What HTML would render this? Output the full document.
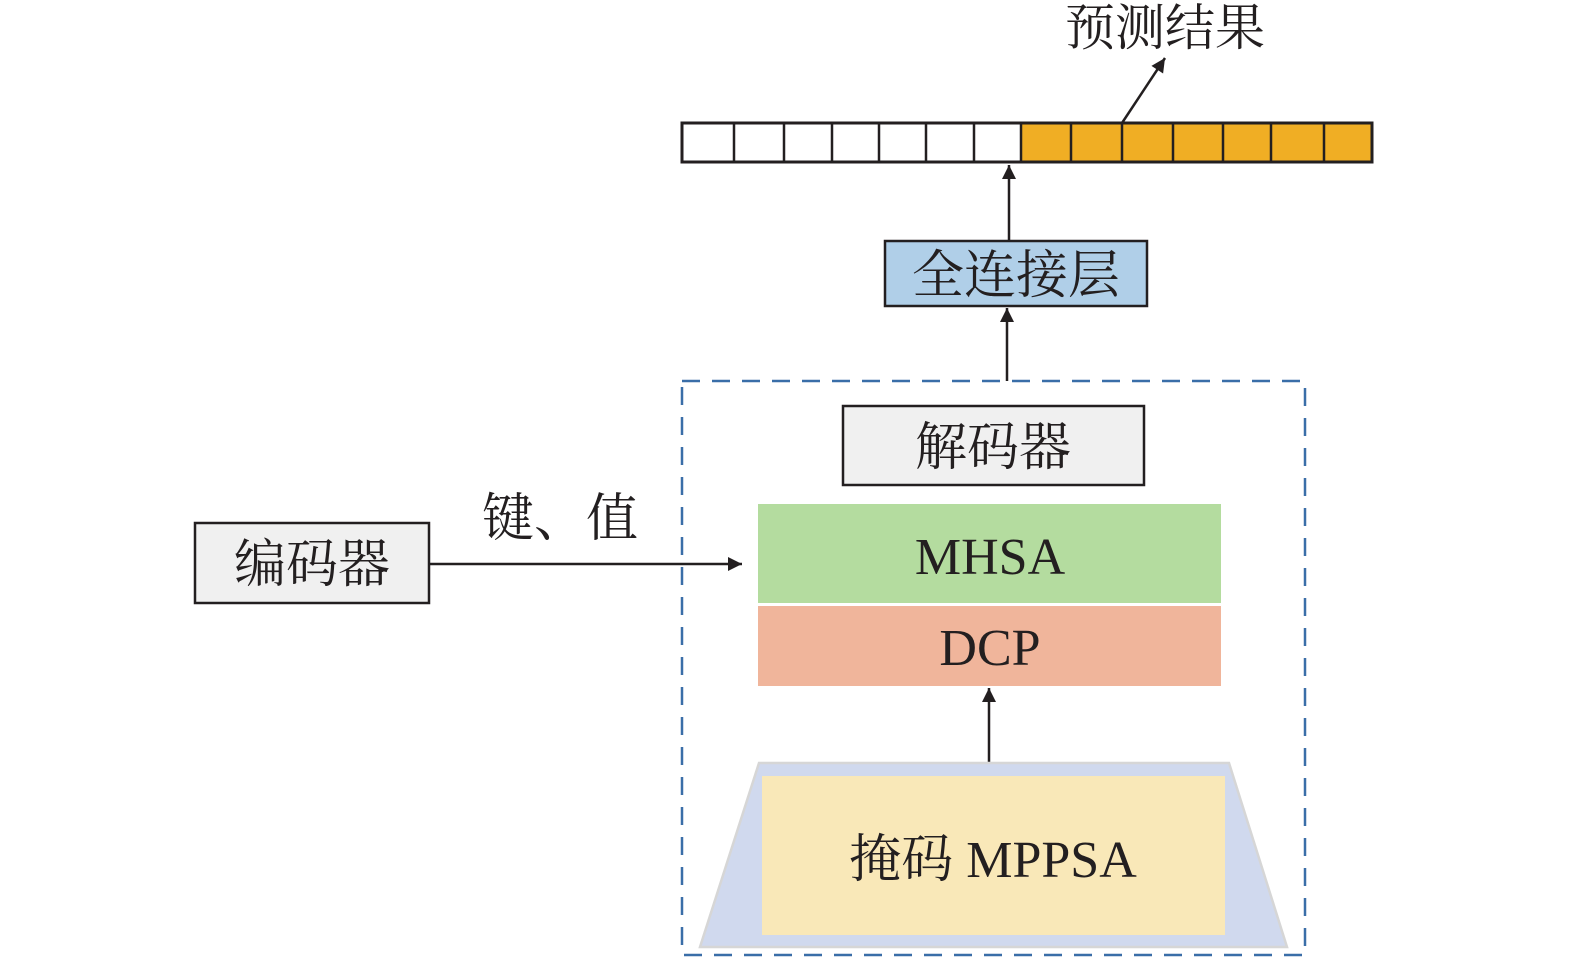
<!DOCTYPE html>
<html><head><meta charset="utf-8"><style>
body{margin:0;background:#fff}
text{font-family:"Liberation Serif","Noto Serif CJK SC",serif;fill:#231f20}
</style></head><body>
<svg width="1575" height="961" xmlns="http://www.w3.org/2000/svg">
<defs><marker id="a" markerWidth="10" markerHeight="10" refX="9" refY="5" orient="auto" markerUnits="userSpaceOnUse"><path d="M0,0 L30,5 L0,10z" transform="scale(0.3,1)"/></marker>
<marker id="b" viewBox="0 0 10 10" markerWidth="30" markerHeight="14" refX="10" refY="5" orient="auto" markerUnits="userSpaceOnUse"><path d="M0,0 L10,5 L0,10z" fill="#231f20"/></marker></defs>
<!-- top cells -->
<rect x="1021" y="123" width="351" height="39" fill="#f0ae24"/>
<rect x="682" y="123" width="690" height="39" fill="none" stroke="#231f20" stroke-width="3"/>
<g stroke="#231f20" stroke-width="2.5">
<line x1="734" y1="123" x2="734" y2="162"/><line x1="784" y1="123" x2="784" y2="162"/><line x1="832" y1="123" x2="832" y2="162"/><line x1="879" y1="123" x2="879" y2="162"/><line x1="926" y1="123" x2="926" y2="162"/><line x1="974" y1="123" x2="974" y2="162"/><line x1="1021" y1="123" x2="1021" y2="162"/><line x1="1071" y1="123" x2="1071" y2="162"/><line x1="1122" y1="123" x2="1122" y2="162"/><line x1="1173" y1="123" x2="1173" y2="162"/><line x1="1223" y1="123" x2="1223" y2="162"/><line x1="1271" y1="123" x2="1271" y2="162"/><line x1="1324" y1="123" x2="1324" y2="162"/>
</g>
<text x="1165" y="45" font-size="50" text-anchor="middle">预测结果</text>
<g stroke="#231f20" stroke-width="2.5" fill="none">
<line x1="1122" y1="123" x2="1165" y2="58" marker-end="url(#b)"/>
<line x1="1009" y1="240" x2="1009" y2="165" marker-end="url(#b)"/>
<line x1="1007" y1="381" x2="1007" y2="308" marker-end="url(#b)"/>
<line x1="989" y1="762" x2="989" y2="688" marker-end="url(#b)"/>
<line x1="429" y1="564" x2="742" y2="564" marker-end="url(#b)"/>
</g>
<rect x="885" y="241" width="262" height="65" fill="#b0cfe8" stroke="#231f20" stroke-width="2.5"/>
<text x="1016" y="293" font-size="52" text-anchor="middle">全连接层</text>
<rect x="682" y="381" width="623" height="574" fill="none" stroke="#3a6ea8" stroke-width="2.5" stroke-dasharray="18,12"/>
<rect x="843" y="406" width="301" height="79" fill="#f0f0f0" stroke="#231f20" stroke-width="2.5"/>
<text x="993" y="465" font-size="52" text-anchor="middle">解码器</text>
<rect x="758" y="504" width="463" height="99" fill="#b4dc9f"/>
<text x="990" y="574" font-size="52" text-anchor="middle">MHSA</text>
<rect x="758" y="606" width="463" height="80" fill="#f0b59b"/>
<text x="990" y="665" font-size="52" text-anchor="middle">DCP</text>
<polygon points="759,763 1229,763 1287,947 700,947" fill="#d0d9ee" stroke="#d6d6d6" stroke-width="2.5"/>
<rect x="762" y="776" width="463" height="159" fill="#f9e8b8"/>
<text x="993" y="877" font-size="52" text-anchor="middle">掩码 MPPSA</text>
<rect x="195" y="523" width="234" height="80" fill="#f0f0f0" stroke="#231f20" stroke-width="2.5"/>
<text x="312" y="582" font-size="52" text-anchor="middle">编码器</text>
<text x="560" y="536" font-size="52" text-anchor="middle">键、值</text>
</svg>
</body></html>
